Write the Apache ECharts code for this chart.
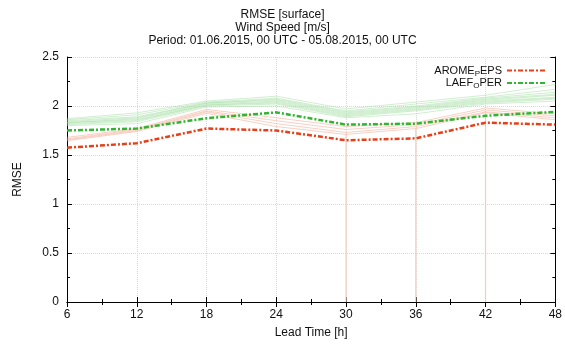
<!DOCTYPE html>
<html><head><meta charset="utf-8">
<script src="https://cdn.jsdelivr.net/npm/echarts@6/dist/echarts.min.js"></script>
<style>html,body{margin:0;padding:0;background:#fff}#c{width:565px;height:345px}</style>
</head><body><div id="c"></div>
<script>
var leadTimes = [6, 12, 18, 24, 30, 36, 42, 48];
var yTicks = [0, 0.5, 1, 1.5, 2, 2.5];
var aromeMain = [1.575, 1.62, 1.77, 1.75, 1.65, 1.67, 1.83, 1.81];
var laefMain = [1.75, 1.77, 1.875, 1.935, 1.81, 1.82, 1.90, 1.94];
var aromeMembers = [
  [1.645, 1.74, 1.925, 1.79, 1.71, 1.77, 1.93, 1.86],
  [1.655, 1.75, 1.94, 1.82, 1.73, 1.79, 1.94, 1.88],
  [1.665, 1.76, 1.95, 1.85, 1.76, 1.81, 1.96, 1.90],
  [1.68, 1.77, 1.965, 1.88, 1.79, 1.83, 1.98, 1.92]
];
var laefMembers = [
  [1.80, 1.82, 1.99, 2.00, 1.88, 1.92, 2.02, 2.05],
  [1.81, 1.84, 2.00, 2.02, 1.89, 1.95, 2.03, 2.07],
  [1.82, 1.85, 2.01, 2.03, 1.90, 1.96, 2.04, 2.08],
  [1.83, 1.86, 2.01, 2.04, 1.91, 1.97, 2.05, 2.09],
  [1.83, 1.87, 2.02, 2.05, 1.92, 1.98, 2.06, 2.11],
  [1.84, 1.88, 2.03, 2.06, 1.93, 1.99, 2.07, 2.12],
  [1.85, 1.89, 2.03, 2.07, 1.94, 2.00, 2.08, 2.14],
  [1.86, 1.91, 2.04, 2.08, 1.95, 2.02, 2.09, 2.17],
  [1.87, 1.93, 2.05, 2.10, 1.97, 2.04, 2.11, 2.22]
];
var dropLeadTimes = [30, 36, 42];
var dropTops = [1.72, 1.77, 1.94];

function pairs(vals){ return leadTimes.map(function(t,i){ return [t, vals[i]]; }); }
var dropData = [];
dropLeadTimes.forEach(function(t,i){ dropData.push([t,0],[t,dropTops[i]],[t,'-']); });

var FONT = 'Liberation Sans';
var series = [];
laefMembers.forEach(function(m){
  series.push({type:'line', data:pairs(m), symbol:'none', silent:true,
    lineStyle:{color:'#9fdc9f', width:0.9, opacity:0.55}, z:1});
});
aromeMembers.forEach(function(m){
  series.push({type:'line', data:pairs(m), symbol:'none', silent:true,
    lineStyle:{color:'#f2a890', width:0.9, opacity:0.6}, z:1});
});
series.push({type:'line', data:dropData, symbol:'none', silent:true, connectNulls:false,
  lineStyle:{color:'#f2cdbf', width:1.2}, z:1});
series.push({name:'AROME_PEPS', type:'line', data:pairs(aromeMain), symbol:'none',
  lineStyle:{color:'#e5401a', width:2.5, type:[5,2,2,2]}, itemStyle:{color:'#e5401a'}, z:5});
series.push({name:'LAEF_OPER', type:'line', data:pairs(laefMain), symbol:'none',
  lineStyle:{color:'#2fb52f', width:2.5, type:[5,2,2,2]}, itemStyle:{color:'#2fb52f'}, z:5});

var option = {
  animation:false,
  textStyle:{fontFamily:FONT},
  title:{
    text:'RMSE [surface]\nWind Speed [m/s]\nPeriod: 01.06.2015, 00 UTC - 05.08.2015, 00 UTC',
    left:'center', top:3,
    textStyle:{fontFamily:FONT, fontSize:12, fontWeight:'normal', color:'#111', lineHeight:13}
  },
  legend:{
    data:['AROME_PEPS','LAEF_OPER'], orient:'vertical', right:14, top:60, align:'right',
    itemWidth:38, itemHeight:8, itemGap:0,
    itemStyle:{opacity:0},
    formatter:function(n){ return n==='AROME_PEPS' ? 'AROME{s|P}EPS' : 'LAEF{s|O}PER'; },
    textStyle:{fontFamily:FONT, fontSize:11, color:'#111',
      rich:{s:{fontSize:8, verticalAlign:'bottom', padding:[6,0,0,0], fontFamily:FONT, color:'#111'}}}
  },
  grid:{left:67, right:8, top:57, bottom:43},
  xAxis:[{
    type:'value', min:6, max:48, interval:6,
    name:'Lead Time [h]', nameLocation:'middle', nameGap:25,
    nameTextStyle:{fontFamily:FONT, fontSize:12, color:'#111'},
    axisLine:{show:true, lineStyle:{color:'#000'}},
    axisTick:{show:true, inside:true, length:5, lineStyle:{color:'#000'}},
    minorTick:{show:true, splitNumber:2, length:3, lineStyle:{color:'#000'}},
    axisLabel:{fontFamily:FONT, fontSize:12, color:'#111', margin:7},
    splitLine:{show:true, lineStyle:{color:'#d8d8d8', type:'dotted'}}
  },{
    type:'value', position:'top', min:6, max:48, interval:6,
    axisLine:{show:true, lineStyle:{color:'#000'}},
    axisTick:{show:true, inside:true, length:5, lineStyle:{color:'#000'}},
    minorTick:{show:true, splitNumber:2, length:3, lineStyle:{color:'#000'}},
    axisLabel:{show:false}, splitLine:{show:false}
  }],
  yAxis:[{
    type:'value', min:0, max:2.5, interval:0.5,
    name:'RMSE', nameLocation:'middle', nameGap:43, nameRotate:90,
    nameTextStyle:{fontFamily:FONT, fontSize:12, color:'#111'},
    axisLine:{show:true, lineStyle:{color:'#000'}},
    axisTick:{show:true, inside:true, length:5, lineStyle:{color:'#000'}},
    minorTick:{show:true, splitNumber:2, length:3, lineStyle:{color:'#000'}},
    axisLabel:{fontFamily:FONT, fontSize:12, color:'#111', margin:8,
      formatter:function(v){ return String(v); }},
    splitLine:{show:true, lineStyle:{color:'#d8d8d8', type:'dotted'}}
  },{
    type:'value', position:'right', min:0, max:2.5, interval:0.5,
    axisLine:{show:true, lineStyle:{color:'#000'}},
    axisTick:{show:true, inside:true, length:5, lineStyle:{color:'#000'}},
    minorTick:{show:true, splitNumber:2, length:3, lineStyle:{color:'#000'}},
    axisLabel:{show:false}, splitLine:{show:false}
  }],
  series:series
};
var chart = echarts.init(document.getElementById('c'), null, {renderer:'canvas'});
chart.setOption(option);
</script>
</body></html>
